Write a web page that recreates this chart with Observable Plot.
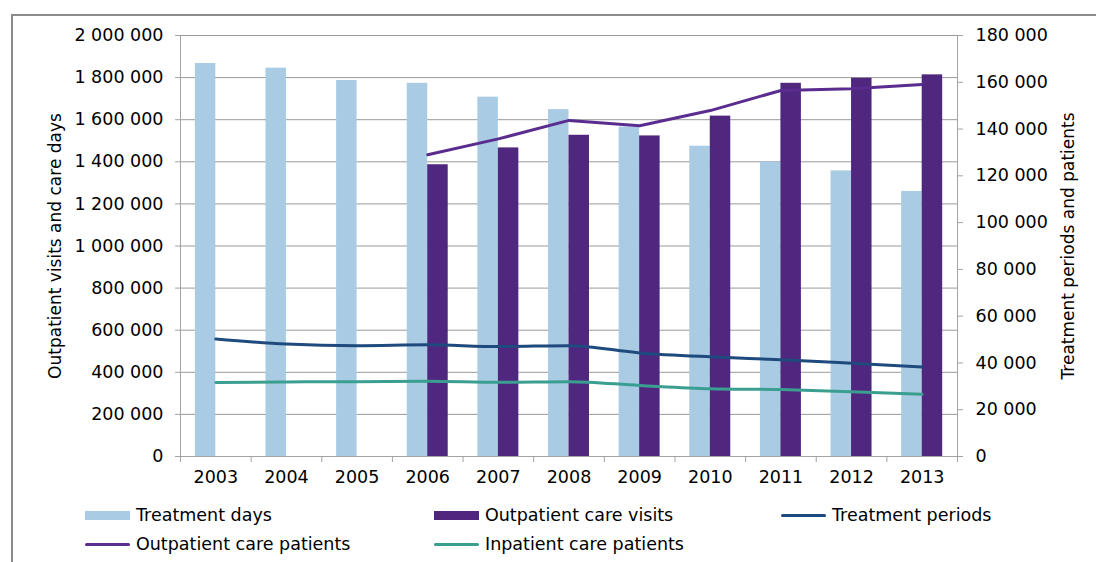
<!DOCTYPE html>
<html><head><meta charset="utf-8">
<script src="https://cdn.jsdelivr.net/npm/d3@7"></script>
<script src="https://cdn.jsdelivr.net/npm/@observablehq/plot@0.6"></script>
<style>
html,body{margin:0;padding:0;background:#fff;}
#wrap{position:relative;width:1096px;height:562px;overflow:hidden;font-family:"DejaVu Sans",sans-serif;}
#border{position:absolute;left:11px;top:14px;width:1200px;height:700px;border:2px solid #8c8c8c;box-sizing:border-box;}
#chart{position:absolute;left:0;top:0;}
#legend{position:absolute;left:0;top:490px;width:1096px;height:72px;font-size:17.5px;color:#000;}
.item{position:absolute;display:flex;align-items:center;height:20px;white-space:nowrap;}
.sw{display:inline-block;width:45px;margin-right:6px;}
.sw.bar{height:9px;}
.sw.line{height:3px;border-radius:2px;}
</style></head><body>
<div id="wrap"><div id="border"></div><div id="chart"></div><div id="legend"></div></div>
<script>
// ---- data ----
const years = [2003, 2004, 2005, 2006, 2007, 2008, 2009, 2010, 2011, 2012, 2013];
const treatmentDays = [1867000, 1845000, 1786000, 1773000, 1707000, 1648000, 1565000, 1474000, 1398000, 1357000, 1259000];
const visitYears = [2006, 2007, 2008, 2009, 2010, 2011, 2012, 2013];
const outpatientVisits = [1386000, 1466000, 1526000, 1523000, 1617000, 1773000, 1797000, 1813000];
const outpatientPatients = [129000, 135800, 143700, 141400, 147900, 156500, 157200, 159000];
const treatmentPeriods = [50200, 48100, 47400, 47800, 47000, 47400, 44300, 42600, 41400, 39900, 38300];
const inpatientPatients = [31600, 31900, 32000, 32200, 31700, 32000, 30400, 29000, 28600, 27700, 26600];
const leftTicks = [0, 200000, 400000, 600000, 800000, 1000000, 1200000, 1400000, 1600000, 1800000, 2000000];
const rightTicks = [0, 20000, 40000, 60000, 80000, 100000, 120000, 140000, 160000, 180000];
const seriesNames = ["Treatment days", "Outpatient care visits", "Treatment periods", "Outpatient care patients", "Inpatient care patients"];
const colors = {
  "Treatment days": "#a9cce4",
  "Outpatient care visits": "#4f277e",
  "Treatment periods": "#1f4a7d",
  "Outpatient care patients": "#5b2c8f",
  "Inpatient care patients": "#3a9f90"
};
const leftTitle = "Outpatient visits and care days";
const rightTitle = "Treatment periods and patients";

// ---- derived ----
const k = 2000000 / 180000; // right-axis -> left-axis scale
const fmt = d => d3.format(",")(Math.round(d)).replace(/,/g, " ");
const barW = 0.29; // bar width in years
const dayRows = years.map((y, i) => ({year: y, value: treatmentDays[i]}));
const visitRows = visitYears.map((y, i) => ({year: y, value: outpatientVisits[i]}));
const opRows = visitYears.map((y, i) => ({year: y, value: outpatientPatients[i] * k}));
const tpRows = years.map((y, i) => ({year: y, value: treatmentPeriods[i] * k}));
const ipRows = years.map((y, i) => ({year: y, value: inpatientPatients[i] * k}));
const bounds = [...years.map(y => y - 0.5), years[years.length - 1] + 0.5];
const axisColor = "#a3a3a3";

const chart = Plot.plot({
  width: 1096, height: 490,
  marginLeft: 180, marginRight: 139, marginTop: 35, marginBottom: 34,
  style: {fontFamily: "DejaVu Sans, sans-serif", fontSize: "17.5px", color: "#000", background: "transparent"},
  x: {domain: [bounds[0], bounds[bounds.length - 1]]},
  y: {domain: [0, 2000000]},
  marks: [
    Plot.ruleY(leftTicks, {stroke: "#9a9a9a", strokeWidth: 1}),
    Plot.rectY(dayRows, {x1: d => d.year - barW, x2: d => d.year, y1: 0, y2: "value", fill: colors["Treatment days"]}),
    Plot.rectY(visitRows, {x1: d => d.year, x2: d => d.year + barW, y1: 0, y2: "value", fill: colors["Outpatient care visits"]}),
    Plot.line(tpRows, {x: "year", y: "value", stroke: colors["Treatment periods"], strokeWidth: 3, curve: "monotone-x"}),
    Plot.line(ipRows, {x: "year", y: "value", stroke: colors["Inpatient care patients"], strokeWidth: 3, curve: "monotone-x"}),
    Plot.line(opRows, {x: "year", y: "value", stroke: colors["Outpatient care patients"], strokeWidth: 3, curve: "linear"}),
    Plot.ruleX([bounds[0], bounds[bounds.length - 1]], {stroke: axisColor}),
    Plot.ruleY([0], {stroke: axisColor}),
    Plot.axisY({ticks: leftTicks, tickFormat: fmt, tickSize: 5, tickPadding: 12, stroke: axisColor, fill: "#000", label: null}),
    Plot.axisY({anchor: "right", ticks: rightTicks.map(v => v * k), tickFormat: d => fmt(d / k), tickSize: 5, tickPadding: 13, stroke: axisColor, fill: "#000", label: null}),
    Plot.axisX({ticks: years, tickSize: 0, tickPadding: 14, tickFormat: d => String(d), fill: "#000", label: null}),
    Plot.axisX({ticks: bounds, tickSize: 6, tickFormat: () => "", stroke: axisColor, label: null}),
    Plot.text([leftTitle], {frameAnchor: "left", textAnchor: "middle", dx: -125, rotate: -90, fontSize: 17, fill: "#000"}),
    Plot.text([rightTitle], {frameAnchor: "right", textAnchor: "middle", dx: 111, rotate: -90, fontSize: 17, fill: "#000"})
  ]
});
document.getElementById("chart").appendChild(chart);

// ---- legend ----
const legendItems = [
  {name: seriesNames[0], kind: "bar", x: 85, y: 15},
  {name: seriesNames[1], kind: "bar", x: 434, y: 15},
  {name: seriesNames[2], kind: "line", x: 781, y: 15},
  {name: seriesNames[3], kind: "line", x: 85, y: 44},
  {name: seriesNames[4], kind: "line", x: 434, y: 44}
];
const lg = document.getElementById("legend");
for (const it of legendItems) {
  const div = document.createElement("div");
  div.className = "item";
  div.style.left = it.x + "px";
  div.style.top = it.y + "px";
  const sw = document.createElement("span");
  sw.className = "sw " + it.kind;
  sw.style.background = colors[it.name];
  const tx = document.createElement("span");
  tx.textContent = it.name;
  div.appendChild(sw);
  div.appendChild(tx);
  lg.appendChild(div);
}
</script>
</body></html>
